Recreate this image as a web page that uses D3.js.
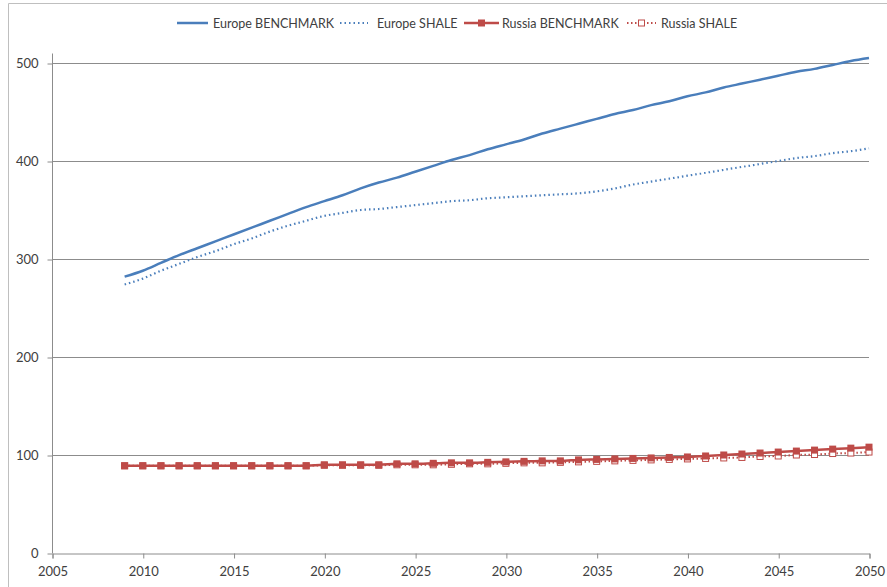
<!DOCTYPE html>
<html><head><meta charset="utf-8">
<script src="https://cdn.jsdelivr.net/npm/d3@7"></script>
<style>body{margin:0;background:#fff}svg{display:block}text{font-family:Lato,"Liberation Sans",sans-serif;fill:#404040}</style>
</head><body>
<svg id="c" width="887" height="587"></svg>
<script>
const years = d3.range(2009, 2051);
const europeBenchmark = [282,288,296,304,311,318,325,332,339,346,353,359,365,372,378,383,389,395,401,406,412,417,422,428,433,438,443,448,452,457,461,466,470,475,479,483,487,491,494,498,502,505];
const europeShale = [274,280,288,295,302,308,315,321,328,334,339,344,347,350,351,353,355,357,359,360,362,363,364,365,366,367,369,372,376,379,382,385,388,391,394,397,400,403,405,408,410,413];
const russiaBenchmark = [89,89,89,89,89,89,89,89,89,89,89,90,90,90,90,91,91,91.5,92,92,92.5,93,93.5,94,94,95,95.5,96,96.5,97,97.5,98,99,100,101,102,103,104,105,106,107,108];
const russiaShale = [89,89,89,89,89,89,89,89,89,89,89,89.5,89.5,89.5,89.5,90,90,90,90.5,91,91,91.5,92,92,92.5,93,93.5,94,94.5,95,95.5,96,96.5,97,97.5,98.5,99,100,100.5,101.5,102,103];
const xTicks = [2005,2010,2015,2020,2025,2030,2035,2040,2045,2050];
const yTicks = [0,100,200,300,400,500];
const seriesNames = ["Europe BENCHMARK","Europe SHALE","Russia BENCHMARK","Russia SHALE"];

const blue = "#4a7ebb", red = "#be4b48", grid = "#8c8c8c";
const svg = d3.select("#c");
const x = d3.scaleLinear().domain([2005,2050]).range([52,869]);
const y = d3.scaleLinear().domain([0,500]).range([553,63]);

// outer frame
svg.append("path").attr("d","M8.5,587V3.5H887").attr("fill","none").attr("stroke","#bfbfbf");

// gridlines
svg.append("g").selectAll("line").data(yTicks.filter(d=>d>0)).join("line")
  .attr("x1",52).attr("x2",869).attr("y1",d=>Math.round(y(d))+0.5).attr("y2",d=>Math.round(y(d))+0.5)
  .attr("stroke",grid).attr("stroke-width",1);

// axes
const yAx = svg.append("g").attr("transform","translate(52.5,0.5)")
  .call(d3.axisLeft(y).tickValues(yTicks).tickSize(5).tickPadding(9).tickFormat(d3.format("d")));
yAx.select(".domain").attr("d","M0,"+(y(0))+"V53").attr("stroke",grid);
const xAx = svg.append("g").attr("transform","translate(0.5,"+(y(0)+0.5)+")")
  .call(d3.axisBottom(x).tickValues(xTicks).tickSize(5).tickPadding(8).tickFormat(d3.format("d")));
[yAx,xAx].forEach(a=>{a.select(".domain").attr("stroke",grid);a.selectAll(".tick line").attr("stroke",grid);
  a.selectAll("text").style("font-size","13px").attr("fill","#404040");});

const line = d3.line().x(d=>x(d[0])).y(d=>y(d[1])).curve(d3.curveMonotoneX);
const zip = arr => years.map((yr,i)=>[yr,arr[i]]);

svg.append("path").datum(zip(europeShale)).attr("d",line).attr("fill","none").attr("stroke",blue).attr("stroke-width",2.2).attr("stroke-dasharray","1.5,3");
svg.append("path").datum(zip(europeBenchmark)).attr("d",line).attr("fill","none").attr("stroke",blue).attr("stroke-width",2.5);

svg.append("path").datum(zip(russiaShale)).attr("d",line).attr("fill","none").attr("stroke",red).attr("stroke-width",2).attr("stroke-dasharray","1.5,2.5");
svg.append("g").selectAll("rect").data(zip(russiaShale)).join("rect")
  .attr("x",d=>x(d[0])-3).attr("y",d=>y(d[1])-3).attr("width",6).attr("height",6)
  .attr("fill","#fff").attr("stroke",red).attr("stroke-width",1);
svg.append("path").datum(zip(russiaBenchmark)).attr("d",line).attr("fill","none").attr("stroke",red).attr("stroke-width",2.5);
svg.append("g").selectAll("rect").data(zip(russiaBenchmark)).join("rect")
  .attr("x",d=>x(d[0])-3.5).attr("y",d=>y(d[1])-3.5).attr("width",7).attr("height",7)
  .attr("fill",red);

// legend
const leg = [
  {name:seriesNames[0],x1:177,x2:208,tx:213,color:blue,dash:null,marker:null,w:2.5},
  {name:seriesNames[1],x1:340,x2:368,tx:377,color:blue,dash:"1.5,3",marker:null,w:2.2},
  {name:seriesNames[2],x1:464,x2:499,tx:502,color:red,dash:null,marker:"filled",w:2.5},
  {name:seriesNames[3],x1:627,x2:656,tx:661,color:red,dash:"1.5,2.5",marker:"hollow",w:2}
];
const ly = 23;
const lg = svg.append("g");
leg.forEach(l=>{
  lg.append("line").attr("x1",l.x1).attr("x2",l.x2).attr("y1",ly).attr("y2",ly).attr("stroke",l.color).attr("stroke-width",l.w).attr("stroke-dasharray",l.dash);
  const cx=(l.x1+l.x2)/2;
  if(l.marker==="filled") lg.append("rect").attr("x",cx-3.5).attr("y",ly-3.5).attr("width",7).attr("height",7).attr("fill",red);
  if(l.marker==="hollow") lg.append("rect").attr("x",cx-3).attr("y",ly-3).attr("width",6).attr("height",6).attr("fill","#fff").attr("stroke",red);
  lg.append("text").attr("x",l.tx).attr("y",ly+4.5).style("font-size","12.5px").text(l.name);
});
</script>
</body></html>
